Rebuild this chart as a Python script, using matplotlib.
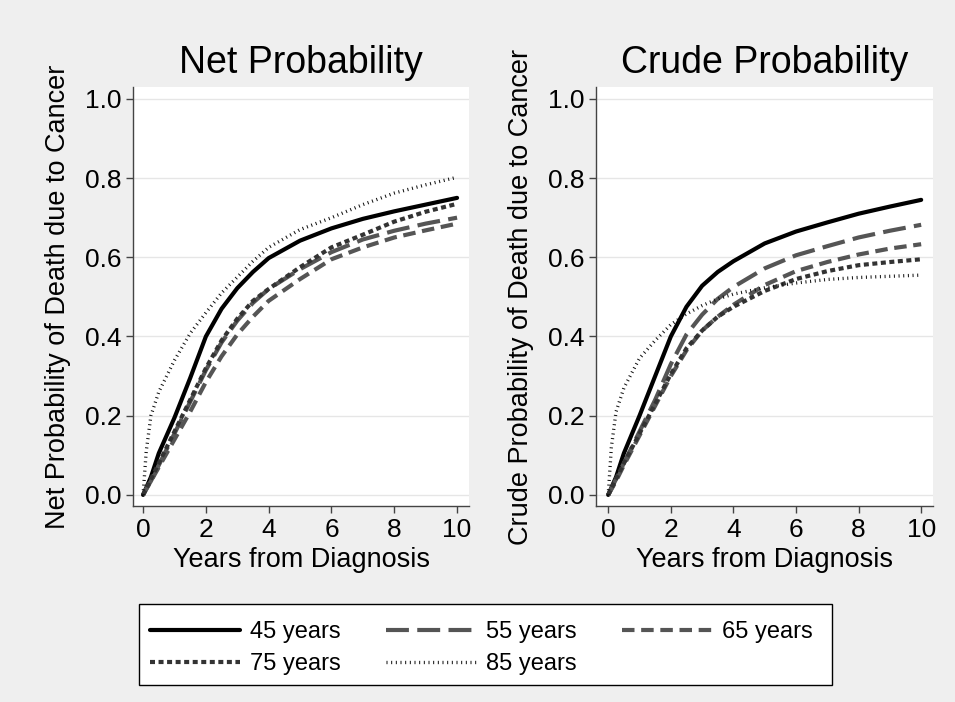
import matplotlib.pyplot as plt
from matplotlib.patches import Rectangle

# years since diagnosis
years = [0, 0.1, 0.25, 0.5, 1, 1.5, 2, 2.5, 3, 3.5, 4, 5, 6, 7, 8, 9, 10]
age_labels = ["45 years", "55 years", "65 years", "75 years", "85 years"]

# net probability of death due to cancer
net_45 = [0, 0.018, 0.045, 0.105, 0.195, 0.295, 0.40, 0.47, 0.522, 0.563, 0.598, 0.642, 0.673, 0.697, 0.716, 0.733, 0.750]
net_55 = [0, 0.015, 0.035, 0.075, 0.155, 0.235, 0.315, 0.385, 0.44, 0.485, 0.52, 0.57, 0.613, 0.645, 0.667, 0.685, 0.700]
net_65 = [0, 0.014, 0.035, 0.07, 0.14, 0.21, 0.285, 0.35, 0.405, 0.45, 0.49, 0.545, 0.595, 0.625, 0.65, 0.668, 0.685]
net_75 = [0, 0.016, 0.04, 0.08, 0.16, 0.24, 0.32, 0.39, 0.445, 0.49, 0.52, 0.575, 0.625, 0.657, 0.69, 0.715, 0.735]
net_85 = [0, 0.11, 0.20, 0.26, 0.34, 0.408, 0.46, 0.51, 0.55, 0.59, 0.625, 0.67, 0.70, 0.733, 0.762, 0.783, 0.802]

# crude probability of death due to cancer
crude_45 = [0, 0.018, 0.045, 0.105, 0.20, 0.30, 0.40, 0.475, 0.528, 0.563, 0.59, 0.635, 0.665, 0.688, 0.71, 0.728, 0.745]
crude_55 = [0, 0.016, 0.04, 0.08, 0.16, 0.24, 0.33, 0.405, 0.455, 0.495, 0.525, 0.572, 0.605, 0.628, 0.65, 0.667, 0.682]
crude_65 = [0, 0.014, 0.035, 0.075, 0.15, 0.225, 0.30, 0.365, 0.415, 0.45, 0.48, 0.53, 0.565, 0.588, 0.607, 0.622, 0.633]
crude_75 = [0, 0.016, 0.04, 0.08, 0.155, 0.23, 0.305, 0.37, 0.415, 0.45, 0.475, 0.515, 0.545, 0.565, 0.58, 0.588, 0.595]
crude_85 = [0, 0.12, 0.21, 0.27, 0.345, 0.39, 0.43, 0.457, 0.478, 0.495, 0.507, 0.523, 0.535, 0.544, 0.549, 0.552, 0.555]

net = [net_45, net_55, net_65, net_75, net_85]
crude = [crude_45, crude_55, crude_65, crude_75, crude_85]

styles = [
    dict(color="black", lw=3, ls="-"),
    dict(color="#555555", lw=3, ls=(0, (5.5, 2))),
    dict(color="#555555", lw=3, ls=(0, (3, 1.6))),
    dict(color="#333333", lw=3, ls=(0, (1.2, 0.85))),
    dict(color="#111111", lw=2.4, ls=(0, (0.3, 1.1))),
]

plt.rcParams["font.family"] = ["Liberation Sans", "DejaVu Sans"]

fig = plt.figure(figsize=(9.55, 7.02), dpi=100, facecolor="#efefef")
ax1 = fig.add_axes([0.1393, 0.2792, 0.3518, 0.5969])
ax2 = fig.add_axes([0.6241, 0.2792, 0.3526, 0.5969])

panels = [
    (ax1, net, "Net Probability", "Net Probability of Death due to Cancer", (-0.32, 10.38)),
    (ax2, crude, "Crude Probability", "Crude Probability of Death due to Cancer", (-0.39, 10.37)),
]

for ax, series, title, ylab, xlim in panels:
    for vals, st in zip(series, styles):
        ax.plot(years, vals, solid_capstyle="round", **st)
    ax.set_xlim(*xlim)
    ax.set_ylim(-0.028, 1.03)
    ax.set_xticks([0, 2, 4, 6, 8, 10])
    ax.set_yticks([0, 0.2, 0.4, 0.6, 0.8, 1.0])
    ax.set_yticklabels([f"{v:.1f}" for v in [0, 0.2, 0.4, 0.6, 0.8, 1.0]])
    ax.yaxis.grid(True, color="#e6e6e6", lw=1)
    ax.set_axisbelow(True)
    for s in ["top", "right"]:
        ax.spines[s].set_visible(False)
    for s in ["left", "bottom"]:
        ax.spines[s].set_color("#444444")
        ax.spines[s].set_linewidth(1)
    ax.tick_params(length=5, width=1, color="#444444", labelsize=19, pad=3.5)
    ax.set_title(title, fontsize=27, pad=10)
    ax.set_xlabel("Years from Diagnosis", fontsize=19.5, labelpad=4)
    ax.set_ylabel(ylab, fontsize=19.5, labelpad=10)

# legend box
fig.patches.append(Rectangle((139 / 955, 17 / 702), 693 / 955, 81 / 702,
                             transform=fig.transFigure, facecolor="white",
                             edgecolor="black", lw=1))

lines = ax1.get_lines()
order = [0, 3, 1, 4, 2]
fig.legend([lines[i] for i in order], [age_labels[i] for i in order],
           loc="upper left", bbox_to_anchor=(150 / 955, 1 - 621 / 702),
           ncol=3, frameon=False, fontsize=17, handlelength=3.8,
           handletextpad=0.45, columnspacing=1.9, labelspacing=0.42,
           borderpad=0, borderaxespad=0)

plt.savefig("out.png", dpi=100, facecolor=fig.get_facecolor())
